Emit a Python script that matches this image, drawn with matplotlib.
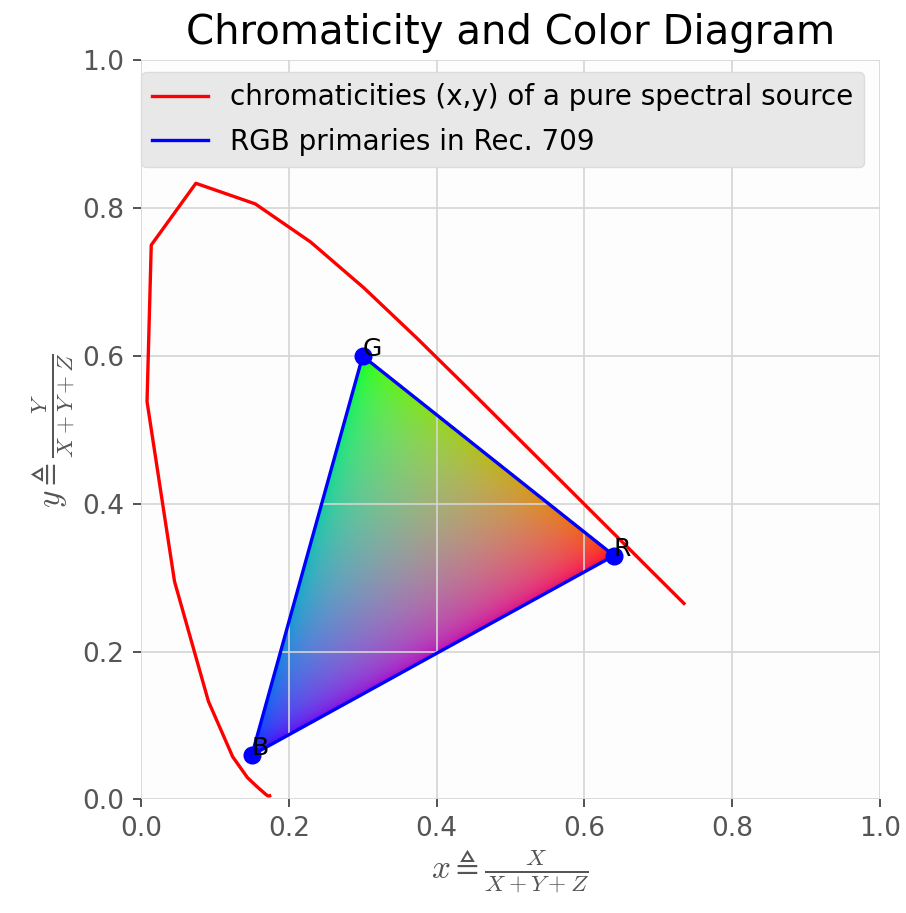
import numpy as np
import matplotlib
matplotlib.use("Agg")
import matplotlib.pyplot as plt

# spectral locus (CIE 1931, 380-680 nm in 10 nm steps)
locus_x = [0.1741, 0.1738, 0.1733, 0.1726, 0.1714, 0.1689, 0.1644, 0.1566,
           0.1440, 0.1241, 0.0913, 0.0454, 0.0082, 0.0139, 0.0743, 0.1547,
           0.2296, 0.3016, 0.3731, 0.4441, 0.5125, 0.5752, 0.6270, 0.6658,
           0.6915, 0.7079, 0.7190, 0.7260, 0.7300, 0.7334, 0.7347]
locus_y = [0.0050, 0.0049, 0.0048, 0.0048, 0.0051, 0.0069, 0.0109, 0.0177,
           0.0297, 0.0578, 0.1327, 0.2950, 0.5384, 0.7502, 0.8338, 0.8059,
           0.7543, 0.6923, 0.6245, 0.5547, 0.4866, 0.4242, 0.3725, 0.3340,
           0.3083, 0.2920, 0.2809, 0.2740, 0.2700, 0.2666, 0.2653]

# Rec. 709 primaries
prim_names = ["R", "G", "B"]
prim_x = [0.64, 0.30, 0.15]
prim_y = [0.33, 0.60, 0.06]

fig = plt.figure(figsize=(9.06, 9.13), dpi=100)
ax = fig.add_axes([0.1556, 0.1238, 0.8157, 0.8105])
ax.set_facecolor("#fdfdfd")
ax.set_axisbelow(True)
ax.grid(True, color="#d5d5d5", lw=1.2)
for s in ax.spines.values():
    s.set_visible(False)

# colour fill of the gamut triangle (barycentric weights, gamma corrected)
n = 600
gx, gy = np.meshgrid(np.linspace(0, 1, n), np.linspace(0, 1, n))
(x1, x2, x3), (y1, y2, y3) = prim_x, prim_y
det = (y2 - y3) * (x1 - x3) + (x3 - x2) * (y1 - y3)
w1 = ((y2 - y3) * (gx - x3) + (x3 - x2) * (gy - y3)) / det
w2 = ((y3 - y1) * (gx - x3) + (x1 - x3) * (gy - y3)) / det
w3 = 1 - w1 - w2
inside = (w1 >= 0) & (w2 >= 0) & (w3 >= 0)
rgb = np.clip(np.dstack([w1, w2, w3]), 0, 1) ** (1 / 2.2)
img = np.dstack([rgb, inside.astype(float)])
ax.imshow(img, extent=(0, 1, 0, 1), origin="lower", interpolation="bilinear", zorder=0)

ax.plot(locus_x, locus_y, color="red", lw=2.4,
        label="chromaticities (x,y) of a pure spectral source")
ax.plot(prim_x + prim_x[:1], prim_y + prim_y[:1], color="blue", lw=2.4,
        label="RGB primaries in Rec. 709")
ax.plot(prim_x, prim_y, "o", color="blue", ms=12)
for name, px, py in zip(prim_names, prim_x, prim_y):
    ax.text(px, py, name, fontsize=18, color="black")

ax.set_xlim(0, 1)
ax.set_ylim(0, 1)
ax.tick_params(colors="#444444", labelcolor="#555555", labelsize=19, length=6, width=1.3, pad=6)
ax.set_xlabel(r"$x\triangleq\frac{X}{X+Y+Z}$", fontsize=24, color="#555555", math_fontfamily="cm")
ax.set_ylabel(r"$y\triangleq\frac{Y}{X+Y+Z}$", fontsize=24, color="#555555", math_fontfamily="cm")
ax.set_title("Chromaticity and Color Diagram", fontsize=29, pad=12)
leg = ax.legend(loc="upper left", bbox_to_anchor=(0.0, 0.984), borderaxespad=0,
                fontsize=20, labelspacing=0.6, facecolor="#e8e8e8", edgecolor="#dcdcdc",
                framealpha=1)

fig.savefig("out.png", dpi=100)
